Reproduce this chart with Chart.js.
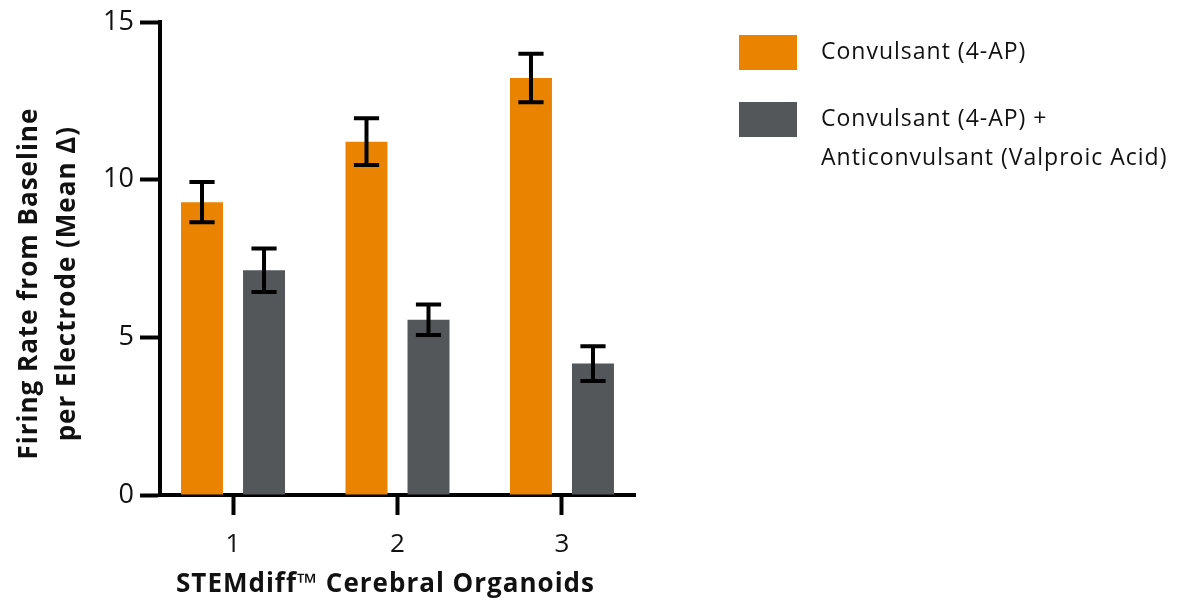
<!DOCTYPE html>
<html>
<head>
<meta charset="utf-8">
<script src="https://cdn.jsdelivr.net/npm/chart.js@4"></script>
<style>
  html, body { margin: 0; padding: 0; background: #fff; }
  #wrap { position: relative; width: 1183px; height: 605px; }
  #legend { position: absolute; left: 739px; top: 35px; font-family: "Open Sans", sans-serif; font-size: 23px; letter-spacing: 1px; color: #111; }
  .item { display: flex; align-items: flex-start; margin-bottom: 32px; }
  .box { width: 58px; height: 35px; margin-right: 24px; flex: none; }
  .txt { line-height: 39px; margin-top: -4px; }
</style>
</head>
<body>
<div id="wrap">
  <canvas id="chart" width="1183" height="605"></canvas>
  <div id="legend"></div>
</div>
<script>
// organoid groups on the x axis
const groups = [1, 2, 3];
const yTicks = [0, 5, 10, 15];

const convulsantLabel = 'Convulsant (4-AP)';
const convulsant = [9.29, 11.21, 13.23];
const convulsantErr = [0.64, 0.74, 0.77];

const comboLabel = ['Convulsant (4-AP) +', 'Anticonvulsant (Valproic Acid)'];
const combo = [7.13, 5.56, 4.17];
const comboErr = [0.69, 0.48, 0.55];

const orange = '#e98300';
const grey = '#53575a';

// error bars with caps, drawn from the scales
const errorBars = {
  id: 'errorBars',
  afterDatasetsDraw(chart) {
    const ctx = chart.ctx;
    const y = chart.scales.y;
    ctx.save();
    ctx.strokeStyle = '#000';
    ctx.lineWidth = 4;
    chart.data.datasets.forEach((ds, i) => {
      const meta = chart.getDatasetMeta(i);
      meta.data.forEach((bar, j) => {
        const v = ds.data[j].y, e = ds.errors[j];
        const top = y.getPixelForValue(v + e), bot = y.getPixelForValue(v - e);
        const cap = bar.width * 0.3;
        ctx.beginPath();
        ctx.moveTo(bar.x, top); ctx.lineTo(bar.x, bot);
        ctx.moveTo(bar.x - cap, top); ctx.lineTo(bar.x + cap, top);
        ctx.moveTo(bar.x - cap, bot); ctx.lineTo(bar.x + cap, bot);
        ctx.stroke();
      });
    });
    ctx.restore();
  }
};

// axis titles (y one is two lines)
const titles = {
  id: 'titles',
  afterDraw(chart) {
    const ctx = chart.ctx;
    const a = chart.chartArea;
    ctx.save();
    ctx.fillStyle = '#111';
    ctx.font = 'bold 26px "Open Sans"';
    ctx.letterSpacing = '1px';
    ctx.textAlign = 'center';
    ctx.textBaseline = 'middle';
    ctx.fillText('STEMdiff\u2122 Cerebral Organoids', (a.left + a.right) / 2 - 12, 585);
    ctx.translate(0, (a.top + a.bottom) / 2 + 25);
    ctx.rotate(-Math.PI / 2);
    ctx.fillText('Firing Rate from Baseline', 0, 30);
    ctx.fillText('per Electrode (Mean \u0394)', 0, 68);
    ctx.restore();
  }
};

const chart = new Chart(document.getElementById('chart').getContext('2d'), {
  type: 'bar',
  data: {
    datasets: [
      { label: convulsantLabel, data: groups.map((g, i) => ({ x: g, y: convulsant[i] })), errors: convulsantErr, backgroundColor: orange },
      { label: comboLabel.join(' '), data: groups.map((g, i) => ({ x: g, y: combo[i] })), errors: comboErr, backgroundColor: grey }
    ]
  },
  options: {
    responsive: false,
    animation: false,
    layout: { padding: { left: 0, right: 548, top: 20, bottom: 0 } },
    categoryPercentage: 0.754,
    barPercentage: 0.677,
    plugins: { legend: { display: false }, tooltip: { enabled: false } },
    scales: {
      x: {
        type: 'linear',
        offset: false,
        min: 0.556,
        max: 3.444,
        afterBuildTicks: s => { s.ticks = groups.map(v => ({ value: v })); },
        grid: { offset: false, drawOnChartArea: false, drawTicks: true, tickLength: 20, tickWidth: 4, color: '#000' },
        border: { color: '#000', width: 4 },
        ticks: { color: '#111', font: { family: 'Open Sans', size: 26 }, padding: 14 },
        afterFit: s => { s.height = 110; }
      },
      y: {
        min: 0,
        max: 15,
        afterBuildTicks: s => { s.ticks = yTicks.map(v => ({ value: v })); },
        grid: { drawOnChartArea: false, drawTicks: true, tickLength: 20, tickWidth: 4, color: '#000' },
        border: { color: '#000', width: 4 },
        ticks: { color: '#111', font: { family: 'Open Sans', size: 27 }, padding: 6 },
        afterFit: s => { s.width = 160; }
      }
    }
  },
  plugins: [errorBars, titles]
});

// legend as html, built from the datasets
const legend = document.getElementById('legend');
[[convulsantLabel], comboLabel].forEach((lines, i) => {
  const item = document.createElement('div');
  item.className = 'item';
  const box = document.createElement('div');
  box.className = 'box';
  box.style.background = chart.data.datasets[i].backgroundColor;
  const txt = document.createElement('div');
  txt.className = 'txt';
  txt.innerHTML = lines.join('<br>');
  item.appendChild(box);
  item.appendChild(txt);
  legend.appendChild(item);
});
</script>
</body>
</html>
